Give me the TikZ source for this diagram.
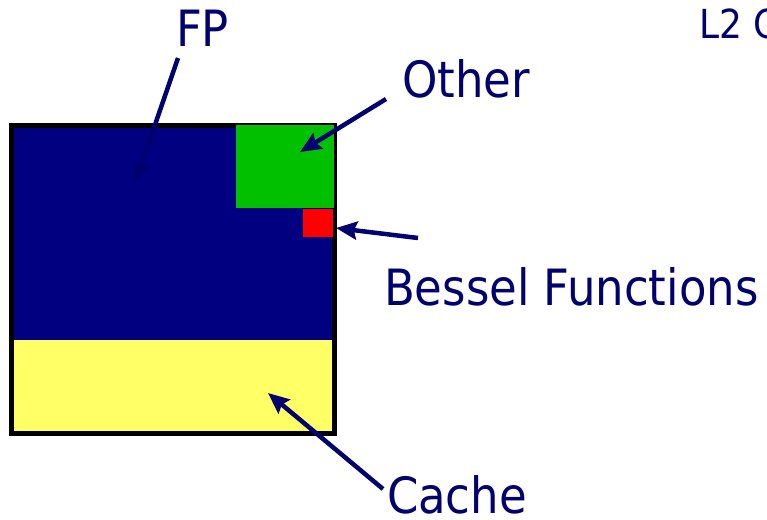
\documentclass[tikz,border=0pt]{standalone}
\usepackage{fontspec}
\setmainfont{DejaVu Sans Condensed}
\usetikzlibrary{arrows.meta}
\definecolor{navytxt}{RGB}{0,0,110}
\definecolor{fpblue}{RGB}{0,0,128}
\definecolor{othgreen}{RGB}{0,192,0}
\definecolor{bessred}{RGB}{255,0,0}
\definecolor{cacheyel}{RGB}{255,255,102}
\tikzset{
  lbl/.style={anchor=base west, inner sep=0pt, outer sep=0pt, text=navytxt, font=\fontsize{50}{50}\selectfont},
  ptr/.style={draw=navytxt, line width=4.5pt, -{Stealth[length=21pt,width=18pt,inset=3pt]}},
}
\begin{document}
\begin{tikzpicture}[x=1pt,y=-1pt]
\clip (0,0) rectangle (767,519);
\fill[white] (0,0) rectangle (767,519);
% regions
\fill[fpblue] (11.5,125.5) rectangle (334.5,340);
\fill[cacheyel] (11.5,340) rectangle (334.5,433.5);
\draw[black, line width=5.5pt] (11.5,125.5) rectangle (334.5,433.5);
\fill[othgreen] (236,125) rectangle (334,208);
\fill[bessred] (303,209) rectangle (333,237);
% arrow ends
\coordinate (fpT) at (135,183);
\coordinate (othT) at (300,152);
\coordinate (besT) at (336,228);
\coordinate (cacT) at (268,393);
\coordinate (fpS) at (178,58);
\coordinate (othS) at (386,99);
\coordinate (besS) at (418,238);
\coordinate (cacS) at (383,489);
% labels
\node[lbl] (fp) at (176,47) {FP};
\node[lbl] (oth) at (402,97) {Other};
\node[lbl] (bes) at (384,305) {Bessel Functions};
\node[lbl] (cac) at (387,513.5) {Cache};
\node[lbl, font=\fontsize{40}{40}\selectfont] (l2) at (699,38) {L2 C};
% arrows
\draw[ptr] (fpS) -- (fpT);
\draw[ptr] (othS) -- (othT);
\draw[ptr] (besS) -- (besT);
\draw[ptr] (cacS) -- (cacT);
\end{tikzpicture}
\end{document}
